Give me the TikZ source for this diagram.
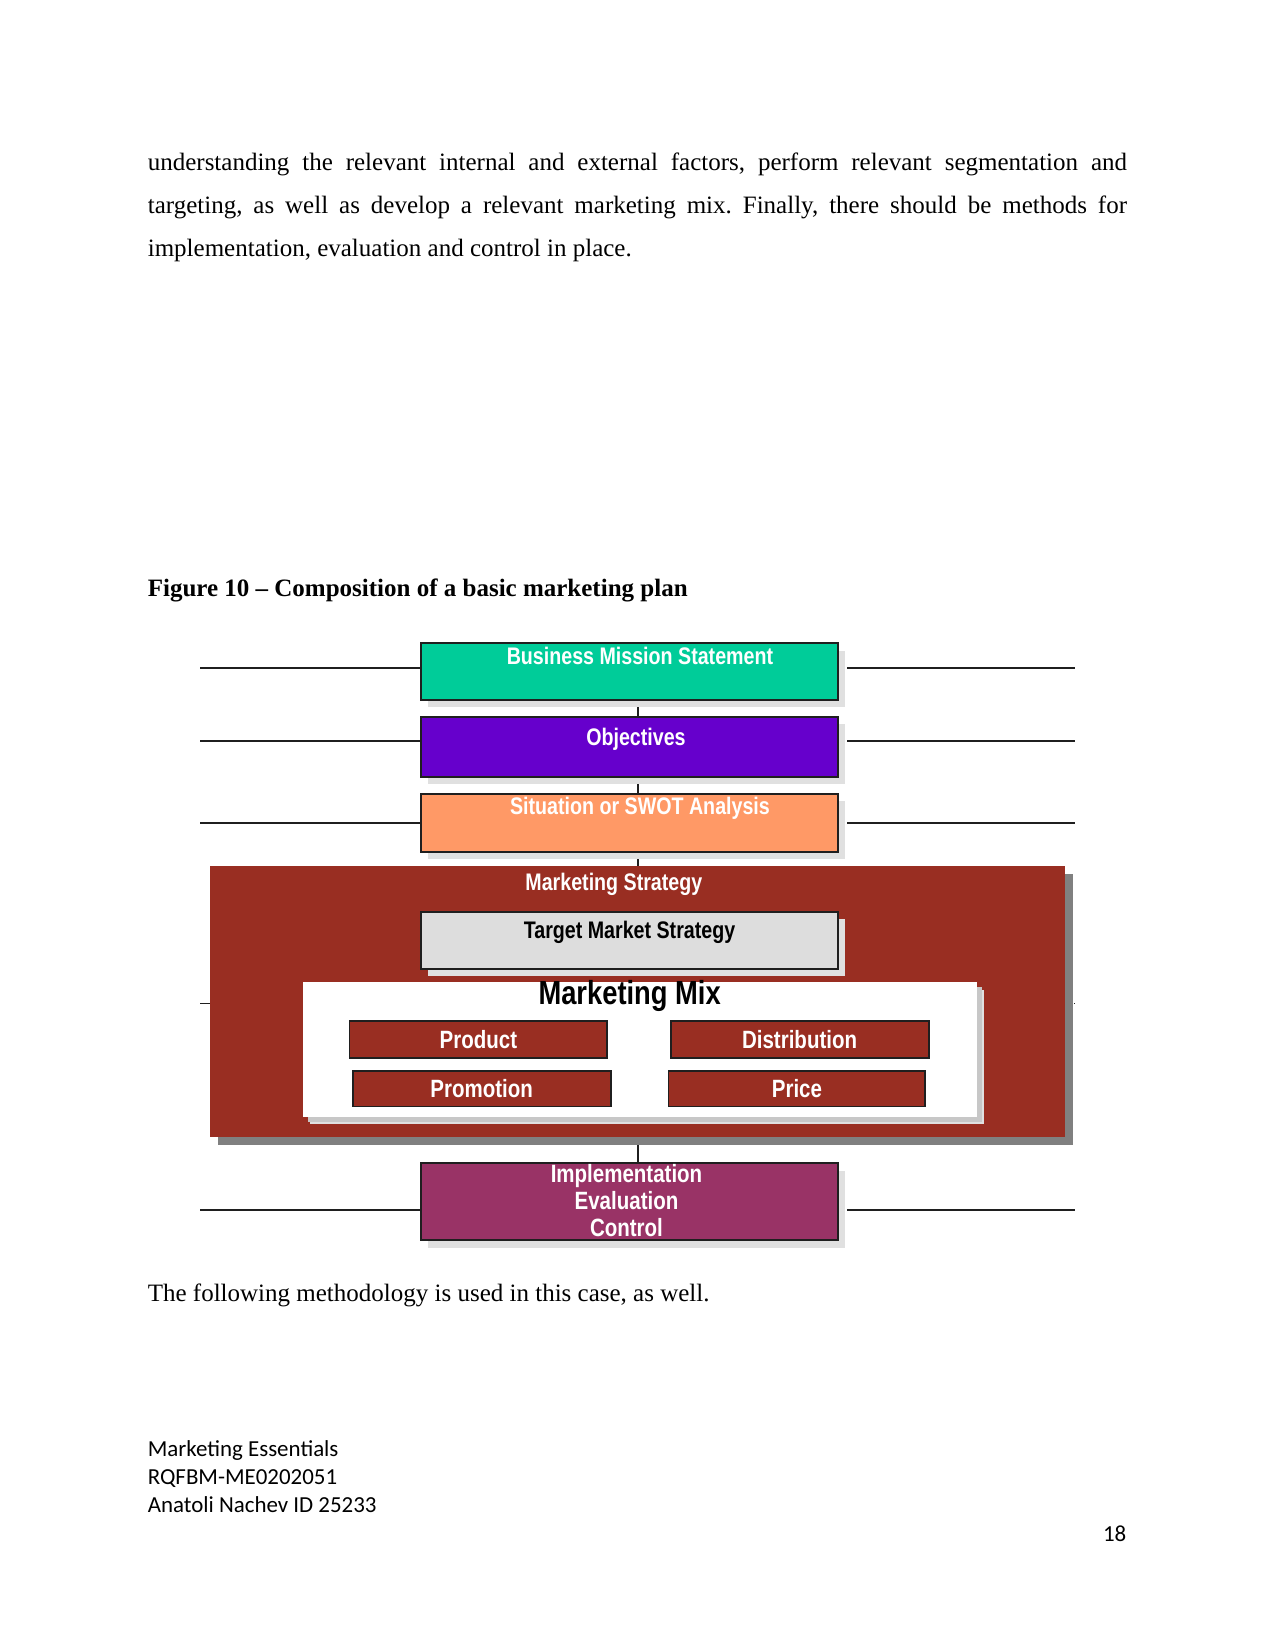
\documentclass[tikz,border=0pt]{standalone}
\usepackage{fontspec}
\setmainfont{Liberation Serif}
\newfontfamily\footfont{Carlito}
\newfontfamily\boxfont[FakeStretch=0.82]{Liberation Sans}
\usepackage{tikz}
\usetikzlibrary{calc,shadows,backgrounds}
\frenchspacing
\definecolor{mission}{HTML}{00CC99}
\definecolor{objviolet}{HTML}{6600CC}
\definecolor{swotorange}{HTML}{FF9966}
\definecolor{brick}{HTML}{992E22}
\definecolor{tmsgray}{HTML}{DDDDDD}
\definecolor{plum}{HTML}{993366}
\definecolor{ink}{HTML}{1F1F1F}
\newcommand{\upx}{0.5054pt}
\tikzset{
  stage/.style={draw=ink,line width=0.9pt,anchor=north west,inner sep=0pt,
                drop shadow={shadow xshift=3.5pt,shadow yshift=-3.5pt,
                             fill=black!12,opacity=1}},
  bigstage/.style={anchor=north west,inner sep=0pt,
                   drop shadow={shadow xshift=4pt,shadow yshift=-4pt,
                                fill=black!50,opacity=1}},
  mixitem/.style={draw=ink,line width=0.9pt,anchor=north west,inner sep=0pt,
                  fill=brick,font=\boxfont\bfseries\fontsize{12}{13}\selectfont,
                  text=white},
  boxtext/.style={font=\boxfont\bfseries\fontsize{11.5}{13}\selectfont,
                  text=white,inner sep=2pt},
  side/.style={line width=0.9pt,ink},
  link/.style={line width=0.7pt,ink},
}
\begin{document}
\begin{tikzpicture}[x=\upx,y=-\upx]
  \useasboundingbox (0,0) rectangle (1211,1568);
  % page text
  \node[anchor=north west,inner sep=0pt,text width=470pt,align=justify,
        font=\fontsize{12}{20.7}\selectfont] (para) at (140,145)
    {understanding the relevant internal and external factors, perform relevant
     segmentation and\linebreak targeting, as well as develop a relevant marketing
     mix. Finally, there should be methods for\linebreak implementation, evaluation
     and control in place.};
  \node[anchor=west,inner sep=0pt,font=\fontsize{12}{14}\selectfont\bfseries]
    (caption) at (140,561) {Figure 10 -- Composition of a basic marketing plan};
  % stages
  \node[stage,fill=mission,minimum width=396*\upx,minimum height=54*\upx,
        label={[boxtext,anchor=north,xshift=5pt]north:Business Mission Statement}]
    (bms) at (399,610) {};
  \node[stage,fill=objviolet,minimum width=396*\upx,minimum height=57*\upx,
        boxtext] (obj) at (399,680) {};
  \node[boxtext] (objtext) at (604,702) {Objectives};
  \node[stage,fill=swotorange,minimum width=396*\upx,minimum height=55*\upx,
        label={[boxtext,anchor=north,xshift=5pt]north:Situation or SWOT Analysis}]
    (swot) at (399,753) {};
  \node[bigstage,fill=brick,minimum width=812*\upx,minimum height=257*\upx]
    (strategy) at (199,822) {};
  \node[boxtext] (strattitle) at (583,840) {Marketing Strategy};
  \node[stage,fill=tmsgray,minimum width=396*\upx,minimum height=54*\upx,
        label={[boxtext,text=black,anchor=north,yshift=-3pt]north:Target Market Strategy}]
    (tms) at (399,865) {};
  \node[stage,draw=none,fill=white,minimum width=640*\upx,minimum height=128*\upx,
        drop shadow={shadow xshift=2.5pt,shadow yshift=-2.5pt,fill=black!22,opacity=1}]
    (mix) at (287,932) {};
  \node[font=\boxfont\bfseries\fontsize{16}{18}\selectfont,inner sep=0pt]
    (mixtitle) at (598,946) {Marketing Mix};
  \node[mixitem,minimum width=245*\upx,minimum height=35*\upx]
    (product) at (331,969) {Product};
  \node[mixitem,minimum width=245*\upx,minimum height=35*\upx]
    (distribution) at (636,969) {Distribution};
  \node[mixitem,minimum width=245*\upx,minimum height=34*\upx]
    (promotion) at (334,1016) {Promotion};
  \node[mixitem,minimum width=244*\upx,minimum height=34*\upx]
    (price) at (634,1016) {Price};
  \node[stage,fill=plum,minimum width=396*\upx,minimum height=73*\upx]
    (impl) at (399,1104) {};
  \node[boxtext,align=center,font=\boxfont\bfseries\fontsize{12}{13.1}\selectfont,
        inner sep=0pt] (impltext) at (595,1140) {Implementation\\Evaluation\\Control};
  % connectors
  \begin{scope}[on background layer]
    \fill[white] (0,0) rectangle (1211,1568);
    \coordinate (spine) at (606,0);
    \draw[link] (bms.south -| spine) -- (obj.north -| spine);
    \draw[link] (obj.south -| spine) -- (swot.north -| spine);
    \draw[link] (swot.south -| spine) -- (strategy.north -| spine);
    \draw[link] (strategy.south -| spine) -- (impl.north -| spine);
  \end{scope}
  \foreach \stg/\yy in {bms/634,obj/704,swot/782,impl/1149}{
    \coordinate (\stg L) at (190,\yy);
    \coordinate (\stg R) at (1021,\yy);
    \draw[side] (\stg L) -- (\stg L -| \stg.west);
    \draw[side] ($(\stg R -| \stg.east)+(8,0)$) -- (\stg R);
  }
  \coordinate (stratL) at (190,953);
  \coordinate (stratR) at (1021,953);
  \draw[side] (stratL) -- (stratL -| strategy.west);
  \draw[side] ($(stratR -| strategy.east)+(8,0)$) -- (stratR);
  % page text below
  \node[anchor=west,inner sep=0pt,font=\fontsize{12}{14}\selectfont]
    (follow) at (140,1230) {The following methodology is used in this case, as well.};
  \node[anchor=north west,inner sep=0pt,align=left,
        font=\footfont\fontsize{11}{13.4}\selectfont] (footer) at (140,1368)
    {Marketing Essentials\\RQFBM-ME0202051\\Anatoli Nachev ID 25233};
  \node[anchor=east,inner sep=0pt,font=\footfont\fontsize{11}{13}\selectfont]
    (pageno) at (1070,1457) {18};
\end{tikzpicture}
\end{document}
